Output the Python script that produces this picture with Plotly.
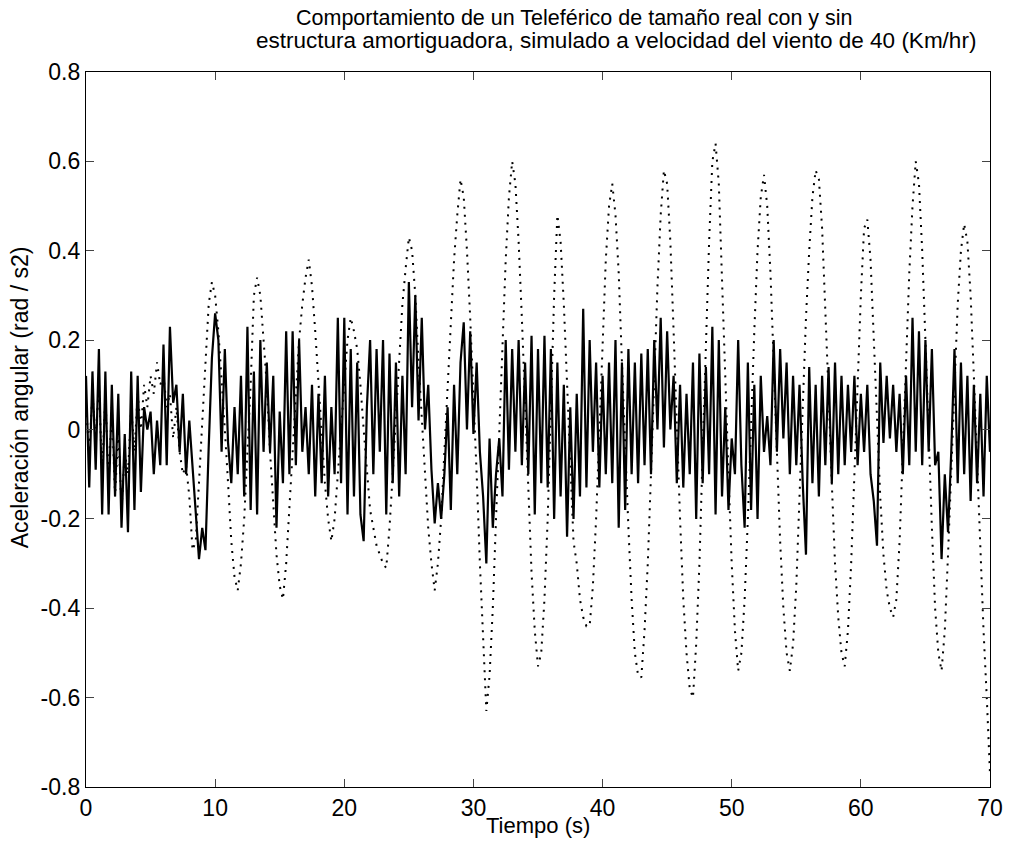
import plotly.graph_objects as go

t_step = 0.25

# With damper structure (solid line), read every 0.25 s
con_amortiguador = [
    0.12, -0.13, 0.13, -0.09,
    0.18, -0.19, 0.13, -0.19,
    0.10, -0.15, 0.08, -0.22,
    -0.01, -0.23, 0.13, -0.18,
    0.12, -0.14, 0.05, 0.00,
    0.04, -0.10, 0.02, -0.08,
    0.19, -0.08, 0.23, 0.06,
    0.10, -0.05, 0.08, -0.10,
    0.02, -0.09, -0.20, -0.29,
    -0.22, -0.27, -0.04, 0.16,
    0.26, 0.20, -0.05, 0.18,
    -0.03, -0.12, 0.05, -0.10,
    0.12, -0.15, 0.23, -0.18,
    0.13, -0.19, 0.20, -0.05,
    0.15, -0.05, 0.12, -0.22,
    0.04, -0.12, 0.22, -0.10,
    0.22, -0.08, 0.20, -0.05,
    0.05, -0.10, 0.10, -0.15,
    0.08, -0.12, 0.12, -0.15,
    0.05, -0.10, 0.25, -0.12,
    0.25, -0.19, 0.18, -0.15,
    0.15, -0.19, -0.25, 0.05,
    0.20, -0.10, 0.18, -0.05,
    0.20, -0.19, 0.17, -0.12,
    0.15, -0.15, 0.12, -0.10,
    0.33, 0.05, 0.30, 0.02,
    0.25, 0.00, 0.10, -0.09,
    -0.21, -0.12, -0.20, -0.10,
    0.05, -0.18, 0.10, -0.10,
    0.15, 0.24, 0.00, 0.22,
    -0.01, 0.15, -0.05, -0.15,
    -0.30, -0.02, -0.22, -0.10,
    -0.02, -0.15, 0.20, -0.09,
    0.18, -0.05, 0.20, -0.08,
    0.15, -0.10, 0.21, -0.19,
    0.18, -0.12, 0.21, -0.13,
    0.18, -0.20, 0.15, -0.15,
    0.10, -0.24, 0.05, -0.20,
    0.08, -0.15, 0.27, -0.13,
    0.20, -0.05, 0.15, -0.13,
    0.12, -0.10, 0.15, -0.12,
    0.20, -0.22, 0.15, -0.18,
    0.18, -0.10, 0.15, -0.12,
    0.17, -0.08, 0.18, -0.10,
    0.20, 0.00, 0.25, -0.04,
    0.22, 0.00, 0.12, -0.12,
    0.10, -0.13, 0.08, -0.10,
    0.15, -0.20, 0.17, -0.12,
    0.14, -0.10, 0.23, -0.19,
    0.20, -0.15, 0.05, -0.18,
    -0.02, -0.10, 0.20, -0.08,
    -0.22, 0.15, -0.18, 0.10,
    -0.20, 0.12, -0.05, 0.03,
    -0.08, 0.20, -0.05, 0.18,
    -0.02, 0.15, -0.10, 0.12,
    -0.08, 0.10, -0.12, -0.28,
    0.14, -0.12, 0.10, -0.15,
    0.12, -0.08, 0.14, -0.12,
    0.15, -0.10, 0.12, -0.08,
    0.10, -0.05, 0.12, -0.08,
    0.08, -0.05, 0.10, -0.10,
    -0.16, -0.26, 0.15, -0.03,
    0.12, -0.02, 0.10, -0.05,
    0.08, -0.10, 0.12, -0.08,
    0.25, -0.05, 0.22, -0.08,
    0.20, -0.05, 0.18, -0.08,
    -0.05, -0.29, -0.10, -0.23,
    -0.05, 0.18, -0.12, 0.15,
    -0.10, 0.12, -0.16, 0.10,
    -0.12, 0.08, -0.15, 0.12,
    -0.05,
]

# Without damper structure (dotted line), read every 0.25 s
sin_amortiguador = [
    0.05, -0.05, 0.08, -0.02,
    0.10, -0.10, 0.08, -0.12,
    0.05, -0.15, 0.00, -0.18,
    -0.05, -0.10, 0.05, -0.05,
    0.08, 0.00, 0.10, 0.05,
    0.12, 0.08, 0.15, 0.10,
    0.12, 0.05, 0.08, -0.02,
    0.05, -0.05, -0.10, -0.08,
    -0.15, -0.27, -0.25, -0.12,
    0.02, 0.15, 0.28, 0.33,
    0.30, 0.22, 0.12, 0.00,
    -0.12, -0.25, -0.33, -0.36,
    -0.30, -0.20, -0.05, 0.10,
    0.30, 0.34, 0.30, 0.20,
    0.10, -0.05, -0.18, -0.28,
    -0.35, -0.38, -0.30, -0.18,
    -0.05, 0.08, 0.20, 0.28,
    0.34, 0.38, 0.32, 0.22,
    0.10, -0.02, -0.12, -0.20,
    -0.25, -0.20, -0.10, 0.02,
    0.12, 0.20, 0.25, 0.22,
    0.18, 0.10, 0.00, -0.10,
    -0.18, -0.22, -0.26, -0.28,
    -0.30, -0.31, -0.22, -0.10,
    0.02, 0.15, 0.28, 0.36,
    0.43, 0.40, 0.30, 0.15,
    0.02, -0.12, -0.22, -0.30,
    -0.36, -0.30, -0.20, -0.05,
    0.10, 0.25, 0.38, 0.48,
    0.56, 0.52, 0.40, 0.25,
    0.08, -0.10, -0.30, -0.48,
    -0.63, -0.55, -0.40, -0.20,
    0.00, 0.20, 0.38, 0.52,
    0.60, 0.55, 0.42, 0.25,
    0.05, -0.15, -0.32, -0.45,
    -0.53, -0.50, -0.38, -0.20,
    0.05, 0.30, 0.48, 0.42,
    0.28, 0.10, -0.08, -0.25,
    -0.30, -0.38, -0.42, -0.44,
    -0.44, -0.35, -0.20, 0.00,
    0.20, 0.38, 0.50, 0.55,
    0.48, 0.35, 0.15, -0.05,
    -0.22, -0.38, -0.50, -0.55,
    -0.555, -0.45, -0.30, -0.10,
    0.12, 0.32, 0.48, 0.58,
    0.55, 0.42, 0.22, 0.00,
    -0.20, -0.38, -0.50, -0.58,
    -0.60, -0.48, -0.30, -0.05,
    0.20, 0.42, 0.60, 0.64,
    0.55, 0.35, 0.12, -0.10,
    -0.30, -0.45, -0.54, -0.50,
    -0.38, -0.20, 0.02, 0.22,
    0.40, 0.52, 0.57, 0.50,
    0.35, 0.15, -0.05, -0.25,
    -0.40, -0.50, -0.54, -0.48,
    -0.35, -0.15, 0.05, 0.25,
    0.40, 0.52, 0.58, 0.56,
    0.45, 0.28, 0.08, -0.12,
    -0.30, -0.42, -0.50, -0.53,
    -0.45, -0.30, -0.10, 0.10,
    0.30, 0.45, 0.47, 0.38,
    0.20, 0.00, -0.15, -0.28,
    -0.36, -0.40, -0.42, -0.38,
    -0.25, -0.05, 0.15, 0.35,
    0.50, 0.60, 0.55, 0.40,
    0.20, -0.02, -0.22, -0.40,
    -0.50, -0.54, -0.45, -0.28,
    -0.08, 0.12, 0.28, 0.40,
    0.46, 0.42, 0.30, 0.12,
    -0.08, -0.28, -0.45, -0.60,
    -0.77,
]

x_ticks = [0, 10, 20, 30, 40, 50, 60, 70]
y_ticks = [-0.8, -0.6, -0.4, -0.2, 0, 0.2, 0.4, 0.6, 0.8]
y_tick_text = ["-0.8", "-0.6", "-0.4", "-0.2", "0", "0.2", "0.4", "0.6", "0.8"]

titulo_1 = "Comportamiento de un Teleférico de tamaño real con y sin"
titulo_2 = "estructura amortiguadora, simulado a velocidad del viento de 40 (Km/hr)"
x_label = "Tiempo (s)"
y_label = "Aceleración angular (rad / s2)"

tiempo_con = [i * t_step for i in range(len(con_amortiguador))]
tiempo_sin = [i * t_step for i in range(len(sin_amortiguador))]

FONT = "Liberation Sans, Arial, sans-serif"

fig = go.Figure()
fig.add_trace(go.Scatter(
    x=tiempo_sin, y=sin_amortiguador, mode="lines",
    line=dict(color="black", width=2, dash="2px,6px"),
    showlegend=False, hoverinfo="skip",
))
fig.add_trace(go.Scatter(
    x=tiempo_con, y=con_amortiguador, mode="lines",
    line=dict(color="black", width=2.2),
    showlegend=False, hoverinfo="skip",
))

fig.update_layout(
    width=1015, height=842,
    margin=dict(l=86, r=22, t=72, b=55),
    paper_bgcolor="white", plot_bgcolor="white",
    font=dict(family=FONT, color="black", size=23),
    xaxis=dict(
        range=[0, 70], tickvals=x_ticks, ticks="inside", ticklen=8,
        showline=True, linecolor="black", linewidth=1.3, mirror="ticks",
        showgrid=False, zeroline=False, tickfont=dict(size=23),
    ),
    yaxis=dict(
        range=[-0.8, 0.8], tickvals=y_ticks, ticktext=y_tick_text,
        ticks="inside", ticklen=8,
        showline=True, linecolor="black", linewidth=1.3, mirror="ticks",
        showgrid=False, zeroline=False, tickfont=dict(size=23),
    ),
    annotations=[
        dict(text=titulo_1, xref="paper", yref="paper", x=0.540, y=1.0755,
             xanchor="center", yanchor="middle", showarrow=False,
             font=dict(size=21.5)),
        dict(text=titulo_2, xref="paper", yref="paper", x=0.586, y=1.0434,
             xanchor="center", yanchor="middle", showarrow=False,
             font=dict(size=22.5)),
        dict(text=x_label, xref="paper", yref="paper", x=0.5, y=-0.0545,
             xanchor="center", yanchor="middle", showarrow=False,
             font=dict(size=22)),
        dict(text=y_label, xref="paper", yref="paper", x=-0.073, y=0.545,
             xanchor="center", yanchor="middle", showarrow=False,
             textangle=-90, font=dict(size=23)),
    ],
)

fig.write_html("out.html")
